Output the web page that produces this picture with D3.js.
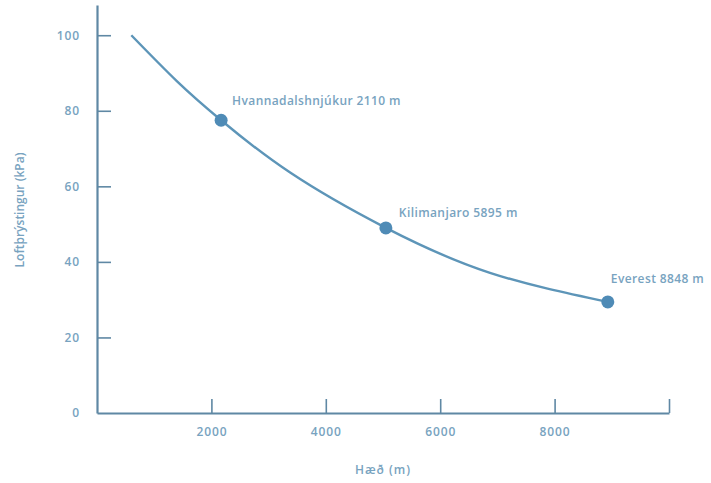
<!DOCTYPE html>
<html>
<head>
<meta charset="utf-8">
<script src="https://cdn.jsdelivr.net/npm/d3@7"></script>
<style>
  body { margin: 0; background: #fff; }
  text { font-family: "Open Sans", sans-serif; }
</style>
</head>
<body>
<div id="chart"></div>
<script>
// curve (altitude m, pressure kPa)
var curveAlt = [600, 1400, 2170, 3370, 5050, 6870, 8930];
var curveKpa = [100, 87.8, 77.5, 63.7, 49, 37.1, 29.4];

// marked mountains
var peakNames = ["Hvannadalshnjúkur 2110 m", "Kilimanjaro 5895 m", "Everest 8848 m"];
var peakAlt = [2170, 5050, 8930];
var peakKpa = [77.5, 49, 29.4];

var xTicks = [2000, 4000, 6000, 8000, 10000];
var yTicks = [0, 20, 40, 60, 80, 100];

var width = 711, height = 483;
var axisCol = "#5f88a4", lineCol = "#5d95b8", dotCol = "#4f8bb6", textCol = "#78a3c0";

var svg = d3.select("#chart")
  .append("svg")
    .attr("width", width)
    .attr("height", height);

var x = d3.scaleLinear()
  .domain([0, 10000])
  .range([97, 669]);

var y = d3.scaleLinear()
  .domain([0, 108])
  .range([413, 5]);

// x axis
var xAxis = svg.append("g")
  .attr("transform", "translate(0,413)")
  .call(d3.axisBottom(x)
    .tickValues(xTicks)
    .tickSize(-14)
    .tickSizeOuter(0)
    .tickPadding(14)
    .tickFormat(function(d) { return d == 10000 ? "" : d; }));

// y axis
var yAxis = svg.append("g")
  .attr("transform", "translate(97,0)")
  .call(d3.axisLeft(y)
    .tickValues(yTicks)
    .tickSize(-14)
    .tickSizeOuter(0)
    .tickPadding(17));

yAxis.selectAll(".tick line").filter(function(d) { return d == 0; }).remove();

[xAxis, yAxis].forEach(function(g) {
  g.select(".domain").attr("stroke", axisCol).attr("stroke-width", 2.2);
  g.selectAll(".tick line").attr("stroke", axisCol).attr("stroke-width", 1.6);
  g.selectAll(".tick text")
    .attr("fill", textCol)
    .style("font-size", "12px")
    .style("font-weight", 600)
    .style("letter-spacing", "0.9px");
});

// axis titles
svg.append("text")
  .attr("x", 383)
  .attr("y", 474)
  .attr("text-anchor", "middle")
  .attr("fill", textCol)
  .style("font-size", "12px")
  .style("font-weight", 600)
  .style("letter-spacing", "1px")
  .text("Hæð (m)");

svg.append("text")
  .attr("transform", "translate(24,210) rotate(-90)")
  .attr("text-anchor", "middle")
  .attr("fill", textCol)
  .style("font-size", "12px")
  .style("font-weight", 600)
  .text("Loftþrýstingur (kPa)");

// the curve
var lineData = curveAlt.map(function(a, i) { return {alt: a, kpa: curveKpa[i]}; });

svg.append("path")
  .datum(lineData)
  .attr("d", d3.line()
    .curve(d3.curveNatural)
    .x(function(d) { return x(d.alt) })
    .y(function(d) { return y(d.kpa) })
  )
  .attr("stroke", lineCol)
  .style("stroke-width", 2.4)
  .style("fill", "none");

// peaks
var peaks = peakNames.map(function(n, i) { return {name: n, alt: peakAlt[i], kpa: peakKpa[i]}; });
var labelShift = [[11, -15], [13, -11], [3, -19]];

svg.selectAll("circle")
  .data(peaks)
  .enter()
  .append("circle")
    .attr("cx", function(d) { return x(d.alt) })
    .attr("cy", function(d) { return y(d.kpa) })
    .attr("r", 6.5)
    .style("fill", dotCol);

svg.selectAll(".peak")
  .data(peaks)
  .enter()
  .append("text")
    .attr("class", "peak")
    .attr("x", function(d, i) { return x(d.alt) + labelShift[i][0] })
    .attr("y", function(d, i) { return y(d.kpa) + labelShift[i][1] })
    .attr("fill", textCol)
    .style("font-size", "12px")
    .style("font-weight", 600)
    .style("letter-spacing", "0.4px")
    .text(function(d) { return d.name; });
</script>
</body>
</html>
